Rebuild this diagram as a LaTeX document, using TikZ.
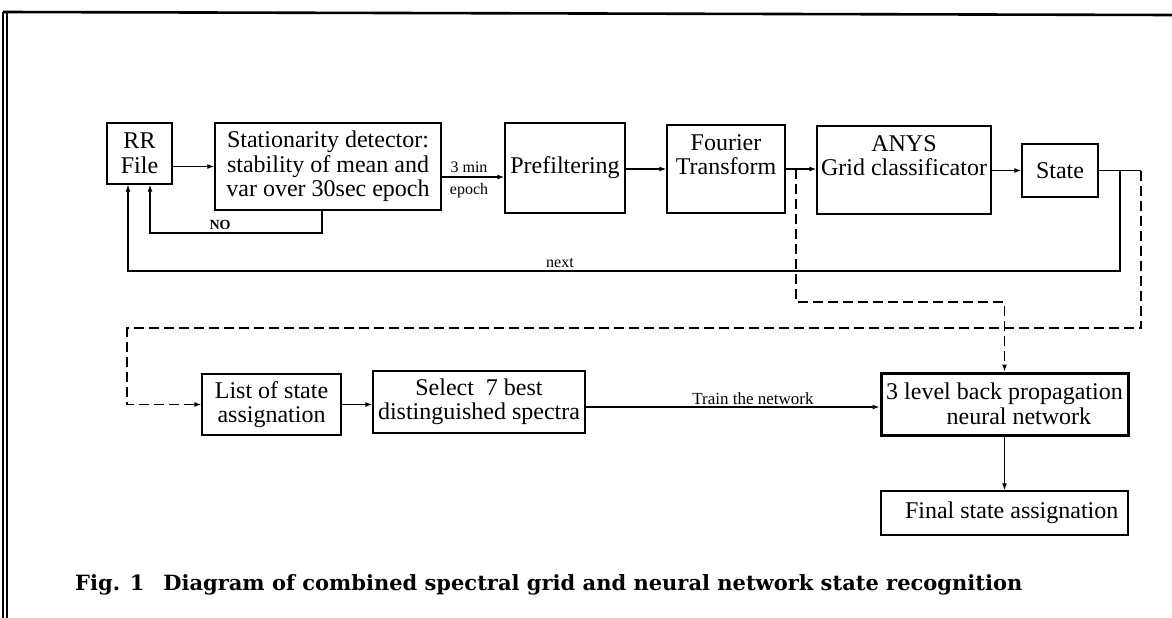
\documentclass[tikz,border=0pt]{standalone}
\usepackage{fontspec}
\setmainfont{Liberation Serif}
\newfontfamily\capfont{DejaVu Serif}
\usetikzlibrary{arrows.meta}
\begin{document}
\begin{tikzpicture}[x=1pt,y=-1pt,
  boxfont/.style={font=\fontsize{24}{24.5}\selectfont},
  box/.style={draw, line width=1.4pt, inner sep=0pt, align=center, boxfont},
  boxtext/.style={inner sep=0pt, align=center, boxfont},
  tip/.style={-{Latex[length=7pt,width=5pt]}},
  link/.style={line width=1.3pt},
  conn/.style={link, tip},
  dashlink/.style={line width=1.2pt, dash pattern=on 10pt off 5pt},
  small/.style={inner sep=1pt, font=\fontsize{16}{16}\selectfont}]

\useasboundingbox (0,0) rectangle (1172,618);

% page frame
\draw[line width=2.6pt] (3,12) -- (1172,15);
\draw[line width=1.3pt] (3,12) -- (3,618);
\draw[line width=1.3pt] (7,12) -- (7,618);

% upper processing chain
\node[box, minimum width=65pt, minimum height=61pt] (rr) at (139.5,153.5) {RR\\File};
\node[box, minimum width=226pt, minimum height=87pt] (stat) at (328,166.5)
  {Stationarity detector:\\stability of mean and\\var over 30sec epoch};
\node[box, minimum width=120pt, minimum height=90pt] (pre) at (565,168) {Prefiltering};
\node[box, minimum width=118pt, minimum height=88pt] (four) at (726,169) {};
\node[boxtext, anchor=north] (fourtxt) at ([yshift=-10pt]four.north) {Fourier\\Transform};
\node[box, minimum width=174pt, minimum height=88pt] (anys) at (904,170) {};
\node[boxtext, anchor=north] (anystxt) at ([yshift=-10pt]anys.north) {ANYS\\Grid classificator};
\node[box, minimum width=76pt, minimum height=53pt] (state) at (1060,170.5) {State};

% lower chain
\node[box, minimum width=139pt, minimum height=61pt] (list) at (271.5,404.5) {List of state\\assignation};
\node[box, minimum width=212pt, minimum height=62pt] (sel) at (479,402)
  {Select\ \ 7 best\\distinguished spectra};
\node[box, line width=3pt, minimum width=247pt, minimum height=62pt] (nn) at (1004.5,404)
  {3 level back propagation\\\hspace*{1.2em}neural network};
\node[box, minimum width=247pt, minimum height=44pt] (fin) at (1004.5,513)
  {\hspace*{0.6em}Final state assignation};

% routing points
\coordinate (se) at (441,177);
\coordinate (noR) at (322,233);
\coordinate (noL) at (150,233);
\coordinate (nxR) at (1120,271);
\coordinate (nxL) at (128,271);
\coordinate (dR) at (1141,170);
\coordinate (fb) at (796,302);
\coordinate (sb) at (1141,328);
\coordinate (lb) at (127,328);
\coordinate (tr) at (0,407);

% forward arrows
\draw[conn] (rr.east |- stat.west) -- (stat.west);
\draw[conn] (stat.east |- se) -- (pre.west |- se);
\draw[conn] (pre.east |- four.west) -- (four.west);
\draw[conn] (four.east) -- (anys.west |- four.east);
\draw[conn] (anys.east |- state.west) -- (state.west);
\draw[conn] (list.east) -- (sel.west |- list.east);
\draw[conn] (sel.east |- tr) -- (nn.west |- tr);
\draw[conn] (nn.south) -- (fin.north);

% labels on the epoch arrow
\node[small] (tmin) at (469,167) {3 min};
\node[small] (tep) at (469,191) {epoch};

% feedback: not stationary
\draw[conn] (stat.south -| noR) -- (noR) -- (noL) -- (rr.south -| noL);
\node[inner sep=1pt, font=\bfseries\fontsize{14}{14}\selectfont] (nolab) at (220,225) {NO};

% feedback: next epoch
\draw[link] (state.east) -- (state.east -| dR);
\draw[conn] (state.east -| nxR) -- (nxR) -- (nxL) -- (rr.south -| nxL);
\node[small] (nxlab) at (560,263) {next};

% dashed data paths to the network
\draw[dashlink, tip] (four.east -| fb) -- (fb) -- (fb -| nn.north) -- (nn.north);
\draw[dashlink, tip] (state.east -| sb) -- (sb) -- (lb) -- (lb |- list.west) -- (list.west);

\node[inner sep=1pt, font=\fontsize{17}{17}\selectfont] (trlab) at (753,399) {Train the network};

% caption
\node[anchor=west, inner sep=0pt, font=\capfont\bfseries\fontsize{21}{21}\selectfont] (cap) at (75,585)
  {Fig. 1\hspace{0.9em}Diagram of combined spectral grid and neural network state recognition};
\end{tikzpicture}
\end{document}
